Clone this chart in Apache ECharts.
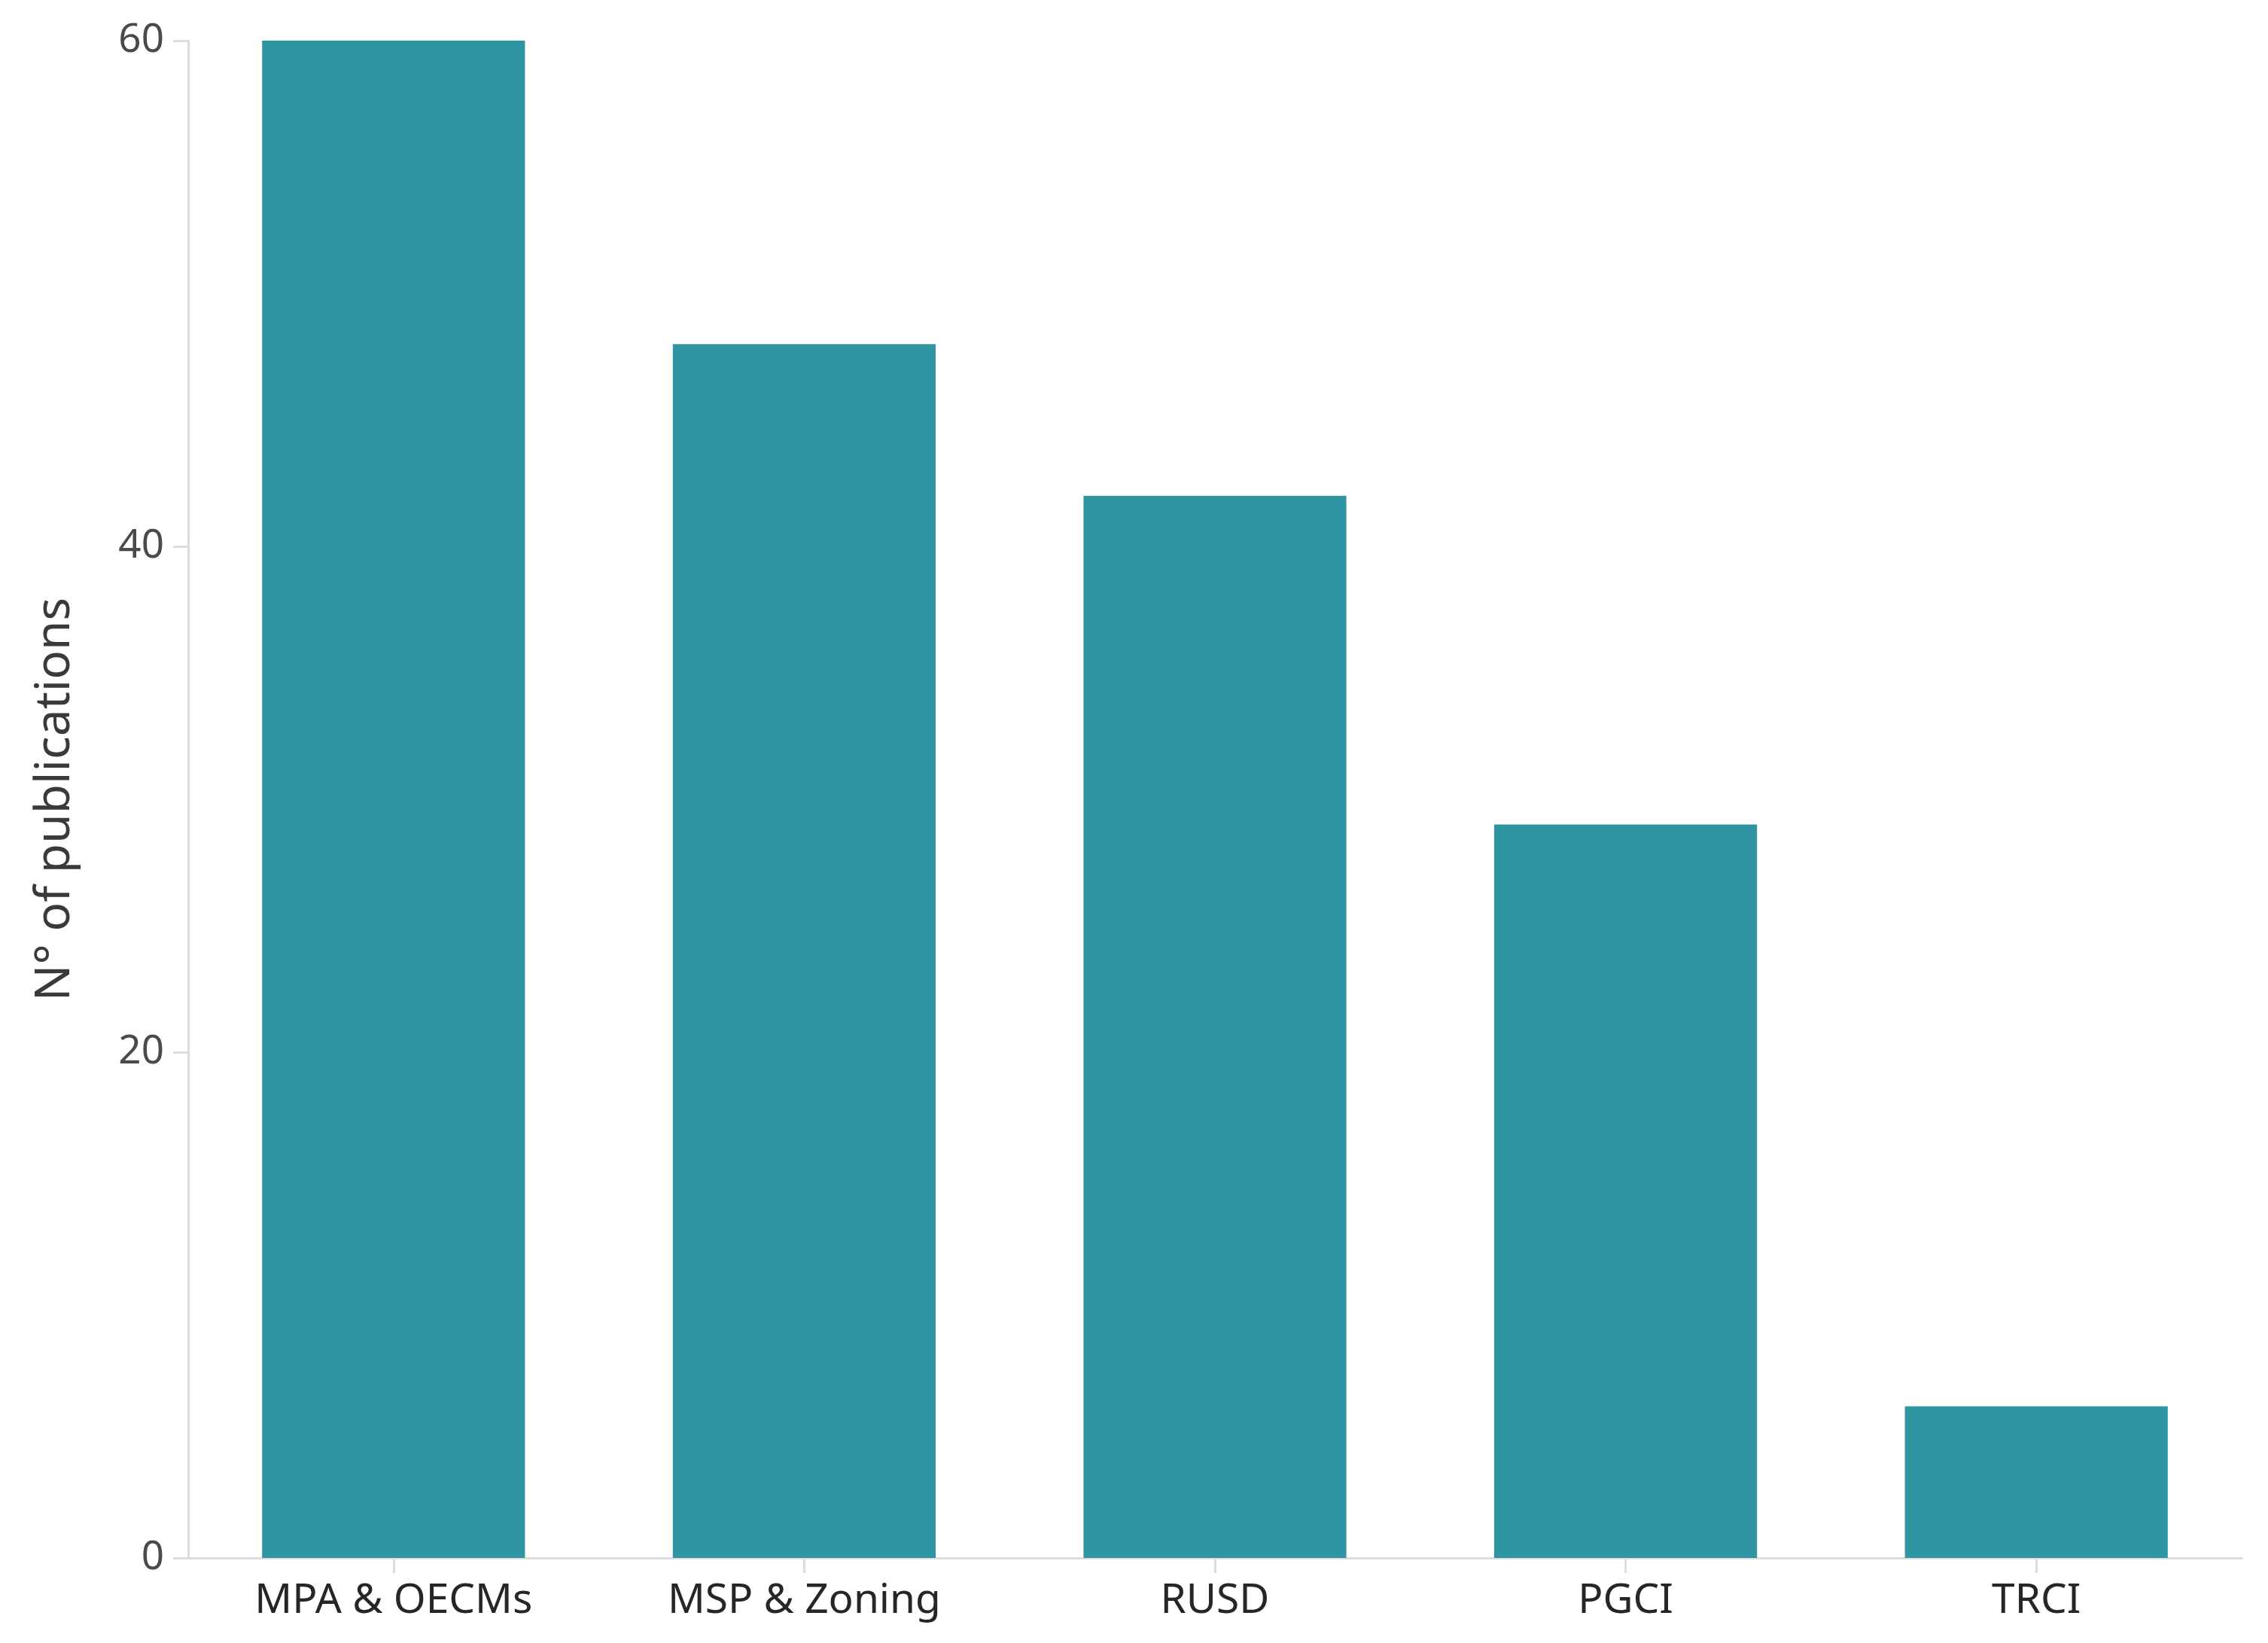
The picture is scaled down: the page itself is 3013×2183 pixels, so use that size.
<!DOCTYPE html>
<html>
<head>
<meta charset="utf-8">
<title>Publications by category</title>
<script src="https://cdn.jsdelivr.net/npm/echarts@6/dist/echarts.min.js"></script>
<style>
  html, body { margin: 0; padding: 0; background: #fff; }
  #chart { width: 3013px; height: 2183px; }
</style>
</head>
<body>
<div id="chart"></div>
<script>
// data
var categories = ["MPA & OECMs", "MSP & Zoning", "RUSD", "PGCI", "TRCI"];
var publications = [60, 48, 42, 29, 6];
var yTicks = [0, 20, 40, 60];

var barColor = "#2f95a2";
var axisColor = "#dcdcdc";
var font = "Noto Sans";

var myChart = echarts.init(document.getElementById("chart"));

var option = {
  animation: false,
  backgroundColor: "#ffffff",
  grid: {
    left: 250,
    right: 35,
    top: 54,
    bottom: 113,
    containLabel: false
  },
  xAxis: {
    type: "category",
    data: categories,
    axisLine: { lineStyle: { color: axisColor, width: 3 } },
    axisTick: {
      show: true,
      alignWithLabel: true,
      length: 20,
      lineStyle: { color: axisColor, width: 3 }
    },
    axisLabel: {
      margin: 30,
      fontFamily: font,
      fontSize: 55,
      color: "#262626"
    }
  },
  yAxis: {
    type: "value",
    min: yTicks[0],
    max: yTicks[yTicks.length - 1],
    interval: yTicks[1] - yTicks[0],
    name: "N° of publications",
    nameLocation: "middle",
    nameGap: 144,
    nameTextStyle: {
      fontFamily: font,
      fontSize: 64,
      color: "#3a3a3a"
    },
    axisLine: { show: true, lineStyle: { color: axisColor, width: 3 } },
    axisTick: {
      show: true,
      length: 20,
      lineStyle: { color: axisColor, width: 3 }
    },
    splitLine: { show: false },
    axisLabel: {
      margin: 32,
      fontFamily: font,
      fontSize: 53,
      color: "#4a4a4a"
    }
  },
  series: [
    {
      type: "bar",
      data: publications,
      barWidth: "64%",
      itemStyle: { color: barColor }
    }
  ]
};

myChart.setOption(option);
</script>
</body>
</html>
